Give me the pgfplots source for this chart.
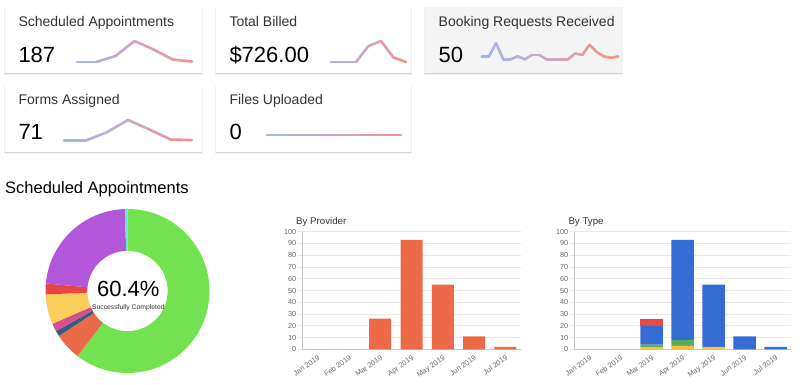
\documentclass[border=0pt]{standalone}
\usepackage{pgfplots}
\pgfplotsset{compat=1.18}
\usepackage{fontspec}
\setmainfont{Liberation Sans}
\definecolor{cardgray}{RGB}{244,244,244}
\definecolor{txt}{RGB}{51,51,51}
\definecolor{ticktxt}{RGB}{102,102,102}
\definecolor{gridc}{RGB}{232,232,232}
\definecolor{barorange}{RGB}{237,106,72}
\definecolor{tblue}{RGB}{52,108,212}
\definecolor{tgreen}{RGB}{88,172,88}
\definecolor{tyellow}{RGB}{245,194,66}
\definecolor{tred}{RGB}{232,72,72}
\definecolor{dgreen}{RGB}{114,226,80}
\definecolor{dorange}{RGB}{234,106,72}
\definecolor{ddblue}{RGB}{44,94,134}
\definecolor{dpink}{RGB}{216,78,140}
\definecolor{dyellow}{RGB}{251,206,92}
\definecolor{dred}{RGB}{232,70,70}
\definecolor{dpurple}{RGB}{178,86,218}
\definecolor{dcyan}{RGB}{110,224,210}

\pgfplotsset{
  spark/.style={hide axis, scale only axis, clip=false, anchor=south west,
    colormap={spark}{rgb255=(160,182,236) rgb255=(205,168,200) rgb255=(244,148,128)}},
  sparkline/.style={mesh, point meta=x, line width=2.6pt, line cap=round, line join=round},
  barax/.style={scale only axis, anchor=south west, width=217pt, height=117.6pt,
    ymin=0, ymax=100, ytick={0,10,...,100}, xmin=-0.5, xmax=6.5,
    xtick={0,...,6},
    xticklabels={Jan 2019,Feb 2019,Mar 2019,Apr 2019,May 2019,Jun 2019,Jul 2019},
    ymajorgrids, grid style={gridc, line width=0.6pt},
    axis x line*=bottom, axis y line*=left, axis line style={-, black!22, line width=0.6pt},
    tick label style={font=\fontsize{7.3}{8}\selectfont, text=ticktxt},
    /pgf/number format/assume math mode=true,
    x tick label style={rotate=35, anchor=north east, inner sep=1pt},
    y tick label style={inner sep=1.5pt},
    tick align=outside, major tick length=4pt, ytick style={gridc, line width=0.6pt},
    xtick style={draw=none}},
}

\newcommand{\card}[5]{%
  \fill[black!6] (#1-0.8,385-#4-2.4) rectangle (#3+0.8,385-#2);
  \fill[black!16] (#1-0.2,385-#4-1.2) rectangle (#3+0.2,385-#2);
  \fill[#5] (#1,385-#4) rectangle (#3,385-#2);
}

\begin{document}
\begin{tikzpicture}[x=1pt,y=1pt]
\useasboundingbox (0,0) rectangle (800,385);
\fill[white] (0,0) rectangle (800,385);

% cards
\card{5}{7}{202}{73}{white}
\card{216}{7}{411}{73}{white}
\card{425}{7}{622}{73}{cardgray}
\card{5}{86}{202}{152}{white}
\card{216}{86}{411}{152}{white}

\begin{scope}[every node/.style={inner sep=0pt, anchor=base west}]
\node[font=\fontsize{14}{16}\selectfont, text=txt] at (18.3,358.3) {Scheduled Appointments};
\node[font=\fontsize{14}{16}\selectfont, text=txt] at (229.3,358.3) {Total Billed};
\node[font=\fontsize{14}{16}\selectfont, text=txt] at (438.5,358.3) {Booking Requests Received};
\node[font=\fontsize{14}{16}\selectfont, text=txt] at (18.3,280) {Forms Assigned};
\node[font=\fontsize{14}{16}\selectfont, text=txt] at (229.3,280) {Files Uploaded};
\node[font=\fontsize{22}{24}\selectfont, text=black] at (18.3,322.7) {187};
\node[font=\fontsize{22}{24}\selectfont, text=black] at (229.3,322.7) {\$726.00};
\node[font=\fontsize{22}{24}\selectfont, text=black] at (438.5,322.7) {50};
\node[font=\fontsize{22}{24}\selectfont, text=black] at (18.3,245) {71};
\node[font=\fontsize{22}{24}\selectfont, text=black] at (229.3,245) {0};
\node[font=\fontsize{16.5}{18}\selectfont, text=black] at (5,191.7) {Scheduled Appointments};
\node[font=\fontsize{9.7}{11}\selectfont, text=txt] at (296,160) {By Provider};
\node[font=\fontsize{9.7}{11}\selectfont, text=txt] at (568.3,160) {By Type};
\end{scope}

% sparklines
\begin{axis}[spark, at={(77pt,323pt)}, width=115pt, height=21pt, xmin=0, xmax=6, ymin=0, ymax=93]
\addplot[sparkline] coordinates {(0,0) (1,0) (2,26) (3,93) (4,55) (5,11) (6,2)};
\end{axis}
\begin{axis}[spark, at={(331pt,323pt)}, width=75pt, height=21pt, xmin=0, xmax=6, ymin=0, ymax=368]
\addplot[sparkline] coordinates {(0,0) (1,0) (2,0) (3,280) (4,368) (5,78) (6,0)};
\end{axis}
\begin{axis}[spark, at={(481.7pt,325.7pt)}, width=136.6pt, height=16pt, xmin=0, xmax=19, ymin=0, ymax=11]
\addplot[sparkline] coordinates {(0,2) (1,2) (2,11) (3,0) (4,0) (5,2) (6,0) (7,3) (8,3) (9,0)
  (10,0) (11,0) (12,0) (13,4) (14,3) (15,10) (16,5) (17,2) (18,1) (19,2)};
\end{axis}
\begin{axis}[spark, at={(64pt,244.3pt)}, width=128pt, height=20.7pt, xmin=0, xmax=6, ymin=0, ymax=35]
\addplot[sparkline] coordinates {(0,0) (1,0) (2,14) (3,35) (4,19) (5,2) (6,1)};
\end{axis}
\begin{axis}[spark, at={(267pt,250pt)}, width=134pt, height=10pt, xmin=0, xmax=6, ymin=0, ymax=1]
\addplot[sparkline] coordinates {(0,0) (1,0) (2,0) (3,0) (4,0) (5,0) (6,0)};
\end{axis}

% donut
\begin{axis}[hide axis, scale only axis, anchor=center, at={(127.5pt,94pt)}, width=164pt, height=164pt,
  xmin=-1, xmax=1, ymin=-1, ymax=1, clip=false]
\addplot[draw=none] coordinates {(0,0)};
\xdef\cum{0}
\foreach \v/\c in {113/dgreen,10/dorange,2/ddblue,3/dpink,11/dyellow,4/dred,43/dpurple,1/dcyan}{
  \pgfmathsetmacro{\aone}{90-\cum*1.925134}
  \pgfmathsetmacro{\atwo}{90-(\cum+\v)*1.925134}
  \edef\temp{\noexpand\fill[\c] (axis cs:{cos(\aone)},{sin(\aone)}) arc[start angle=\aone, end angle=\atwo, radius=82pt] -- (axis cs:{0.49*cos(\atwo)},{0.49*sin(\atwo)}) arc[start angle=\atwo, end angle=\aone, radius=40.18pt] -- cycle;}
  \temp
  \pgfmathsetmacro{\newcum}{\cum+\v}
  \xdef\cum{\newcum}
}
\node[font=\fontsize{22}{24}\selectfont, anchor=base, inner sep=0pt] at (axis cs:0.01,-0.07) {60.4\%};
\node[font=\fontsize{6.8}{8}\selectfont, anchor=base, inner sep=0pt, text=txt] at (axis cs:0.01,-0.23) {Successfully Completed};
\end{axis}

% bar charts
\begin{axis}[barax, at={(302pt,35.7pt)}, width=219pt, ybar, bar width=22pt]
\addplot[fill=barorange, draw=none] coordinates {(0,0) (1,0) (2,26) (3,93) (4,55) (5,11) (6,2)};
\end{axis}

\begin{axis}[barax, at={(574pt,35.7pt)}, width=217pt, ybar stacked, bar width=22.5pt]
\addplot[fill=tyellow, draw=none] coordinates {(0,0) (1,0) (2,2) (3,3) (4,2) (5,0) (6,0)};
\addplot[fill=tgreen, draw=none] coordinates {(0,0) (1,0) (2,2) (3,5) (4,0) (5,0) (6,0)};
\addplot[fill=tblue, draw=none] coordinates {(0,0) (1,0) (2,16) (3,85) (4,53) (5,11) (6,2)};
\addplot[fill=tred, draw=none] coordinates {(0,0) (1,0) (2,6) (3,0) (4,0) (5,0) (6,0)};
\end{axis}
\end{tikzpicture}
\end{document}
